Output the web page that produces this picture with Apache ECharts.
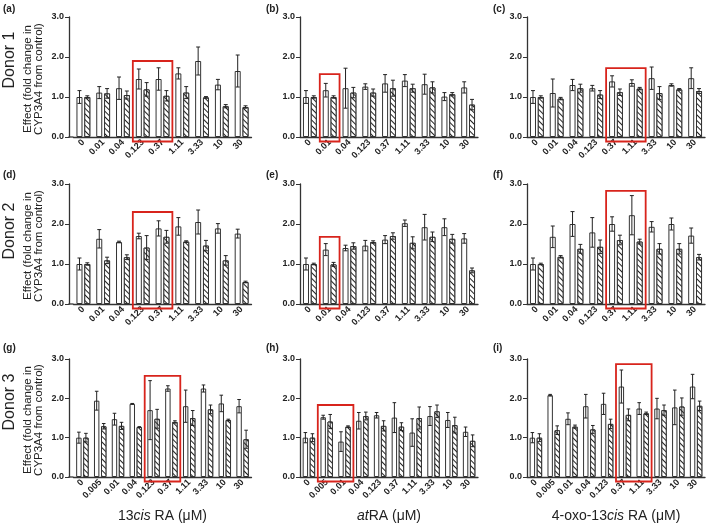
<!DOCTYPE html>
<html><head><meta charset="utf-8">
<script src="https://cdn.jsdelivr.net/npm/echarts@6/dist/echarts.min.js"></script>
<style>html,body{margin:0;padding:0;background:#fff}#c{width:709px;height:524px}</style>
</head><body><div id="c"></div>
<script>
// ---- categories (µM) ----
const cats9 = ['0','0.01','0.04','0.123','0.37','1.11','3.33','10','30'];
const cats10 = ['0','0.005','0.01','0.04','0.123','0.37','1.11','3.33','10','30'];
const yTicks = [0, 1, 2, 3];

// ---- panel (a) Donor 1, 13cis RA ----
const aWhite = [1.00,1.11,1.22,1.45,1.45,1.59,1.90,1.31,1.65];
const aWhiteErr = [0.16,0.15,0.28,0.25,0.28,0.14,0.35,0.13,0.40];
const aHatch = [1.00,1.09,1.05,1.19,1.03,1.11,0.99,0.77,0.75];
const aHatchErr = [0.03,0.12,0.10,0.17,0.13,0.15,0.02,0.04,0.03];
// ---- panel (b) Donor 1, atRA ----
const bWhite = [1.00,1.17,1.22,1.26,1.34,1.41,1.32,1.01,1.24];
const bWhiteErr = [0.16,0.17,0.50,0.07,0.22,0.15,0.25,0.10,0.14];
const bHatch = [1.00,1.00,1.11,1.11,1.22,1.22,1.24,1.07,0.81];
const bHatchErr = [0.03,0.03,0.13,0.09,0.20,0.10,0.14,0.04,0.13];
// ---- panel (c) Donor 1, 4-oxo-13cis RA ----
const cWhite = [1.00,1.10,1.30,1.22,1.39,1.35,1.47,1.30,1.47];
const cWhiteErr = [0.16,0.35,0.14,0.07,0.14,0.08,0.28,0.03,0.26];
const cHatch = [1.00,0.96,1.22,1.06,1.12,1.21,1.10,1.19,1.15];
const cHatchErr = [0.03,0.03,0.10,0.10,0.08,0.03,0.16,0.02,0.06];
// ---- panel (d) Donor 2, 13cis RA ----
const dWhite = [1.00,1.63,1.55,1.70,1.89,1.94,2.05,1.89,1.76];
const dWhiteErr = [0.15,0.23,0.02,0.07,0.19,0.22,0.30,0.12,0.11];
const dHatch = [1.00,1.09,1.17,1.41,1.68,1.56,1.46,1.09,0.55];
const dHatchErr = [0.03,0.08,0.06,0.30,0.16,0.02,0.13,0.12,0.02];
// ---- panel (e) Donor 2, atRA ----
const eWhite = [1.00,1.36,1.40,1.46,1.61,2.02,1.92,1.92,1.64];
const eWhiteErr = [0.15,0.15,0.07,0.13,0.10,0.08,0.32,0.21,0.12];
const eHatch = [1.00,0.99,1.45,1.55,1.70,1.53,1.68,1.63,0.84];
const eHatchErr = [0.02,0.05,0.08,0.03,0.08,0.15,0.12,0.11,0.06];
// ---- panel (f) Donor 2, 4-oxo-13cis RA ----
const fWhite = [1.00,1.68,2.00,1.79,2.00,2.22,1.93,2.00,1.71];
const fWhiteErr = [0.15,0.27,0.31,0.37,0.18,0.49,0.13,0.15,0.19];
const fHatch = [1.00,1.18,1.38,1.43,1.60,1.56,1.38,1.38,1.17];
const fHatchErr = [0.02,0.03,0.11,0.17,0.12,0.06,0.13,0.13,0.07];
// ---- panel (g) Donor 3, 13cis RA ----
const gWhite = [1.00,1.94,1.47,1.86,1.70,2.25,1.80,2.25,1.87,1.80];
const gWhiteErr = [0.14,0.24,0.15,0.01,0.75,0.07,0.41,0.09,0.21,0.17];
const gHatch = [1.00,1.29,1.30,1.27,1.48,1.40,1.50,1.72,1.45,0.96];
const gHatchErr = [0.11,0.07,0.09,0.01,0.24,0.03,0.19,0.11,0.02,0.23];
// ---- panel (h) Donor 3, atRA ----
const hWhite = [1.00,1.52,0.90,1.43,1.57,1.51,1.13,1.55,1.45,1.15];
const hWhiteErr = [0.13,0.05,0.25,0.21,0.07,0.38,0.35,0.24,0.19,0.12];
const hHatch = [1.00,1.41,1.28,1.55,1.30,1.28,1.50,1.67,1.32,0.92];
const hHatchErr = [0.10,0.18,0.02,0.10,0.13,0.10,0.28,0.16,0.20,0.15];
// ---- panel (i) Donor 3, 4-oxo-13cis RA ----
const iWhite = [1.00,2.08,1.48,1.80,1.86,2.30,1.74,1.74,1.77,2.30];
const iWhiteErr = [0.13,0.02,0.15,0.30,0.27,0.42,0.15,0.26,0.44,0.31];
const iHatch = [1.00,1.19,1.28,1.21,1.35,1.58,1.62,1.70,1.79,1.81];
const iHatchErr = [0.10,0.11,0.04,0.10,0.12,0.15,0.03,0.13,0.22,0.12];

// ---- highlight boxes: [first category index, last category index, top value] ----
const boxA = [3, 4, 1.90];
const boxB = [1, 1, 1.57];
const boxC = [4, 5, 1.72];
const boxD = [3, 4, 2.30];
const boxE = [1, 1, 1.68];
const boxF = [4, 5, 2.83];
const boxG = [4, 5, 2.57];
const boxH = [1, 2, 1.83];
const boxI = [5, 6, 2.87];

// ---- text ----
const panelLabels = ['(a)','(b)','(c)','(d)','(e)','(f)','(g)','(h)','(i)'];
const donorLabels = ['Donor 1','Donor 2','Donor 3'];
const yTitleLines = ['Effect (fold change in','CYP3A4 from control)'];
const xTitles = ['13{i|cis} RA (μM)', '{i|at}RA (μM)', '4-oxo-13{i|cis} RA (μM)'];

const panels = [
  {cats:cats9, w:aWhite, we:aWhiteErr, h:aHatch, he:aHatchErr, box:boxA},
  {cats:cats9, w:bWhite, we:bWhiteErr, h:bHatch, he:bHatchErr, box:boxB},
  {cats:cats9, w:cWhite, we:cWhiteErr, h:cHatch, he:cHatchErr, box:boxC},
  {cats:cats9, w:dWhite, we:dWhiteErr, h:dHatch, he:dHatchErr, box:boxD},
  {cats:cats9, w:eWhite, we:eWhiteErr, h:eHatch, he:eHatchErr, box:boxE},
  {cats:cats9, w:fWhite, we:fWhiteErr, h:fHatch, he:fHatchErr, box:boxF},
  {cats:cats10, w:gWhite, we:gWhiteErr, h:gHatch, he:gHatchErr, box:boxG},
  {cats:cats10, w:hWhite, we:hWhiteErr, h:hHatch, he:hHatchErr, box:boxH},
  {cats:cats10, w:iWhite, we:iWhiteErr, h:iHatch, he:iHatchErr, box:boxI}
];

// ---- layout ----
const FONT = 'Arial, "Liberation Sans", sans-serif';
const colLeft = [73.5, 300, 527];
const colWidth = 178;
const yAxisOffset = [4.5, 0, 0];
const rowTop = [17, 184, 359];
const rowH = [120, 120, 118];
const labelX = [3, 266, 493];
const labelY = [4, 170, 343];
const donorY = [60, 231, 402];
const AX = '#333';
const CAT_GAP = 0.3, BAR_GAP = 0.3;

function errRender(params, api) {
  const cat = api.value(0), v = api.value(1), e = api.value(2), side = api.value(3);
  const band = api.size([1, 0])[0];
  const w = band * (1 - CAT_GAP) / (2 + BAR_GAP);
  const x = api.coord([cat, v])[0] + side * (w / 2 + w * BAR_GAP / 2);
  const yHi = api.coord([cat, v + e])[1];
  const yLo = api.coord([cat, Math.max(v - e, 0)])[1];
  const cw = Math.max(w * 0.33, 1.5);
  const style = {stroke: '#222', lineWidth: 1, fill: null};
  return {type: 'group', children: [
    {type: 'line', shape: {x1: x, y1: yHi, x2: x, y2: yLo}, style: style},
    {type: 'line', shape: {x1: x - cw, y1: yHi, x2: x + cw, y2: yHi}, style: style},
    {type: 'line', shape: {x1: x - cw, y1: yLo, x2: x + cw, y2: yLo}, style: style}
  ]};
}
function boxRender(params, api) {
  const s = api.value(0), e = api.value(1), top = api.value(2);
  const band = api.size([1, 0])[0];
  const x1 = api.coord([s, 0])[0] - band / 2;
  const x2 = api.coord([e, 0])[0] + band / 2;
  const y1 = api.coord([s, top])[1];
  const y2 = api.coord([s, 0])[1] + 4.5;
  return {type: 'rect', shape: {x: x1, y: y1, width: x2 - x1, height: y2 - y1},
    style: {fill: null, stroke: '#d8241c', lineWidth: 1.8}};
}

const grid = [], xAxis = [], yAxis = [], series = [], graphic = [];
panels.forEach((p, k) => {
  const r = Math.floor(k / 3), c = k % 3;
  grid.push({left: colLeft[c], top: rowTop[r], width: colWidth, height: rowH[r], containLabel: false});
  xAxis.push({
    type: 'category', gridIndex: k, data: p.cats, boundaryGap: true,
    axisLine: {lineStyle: {color: AX, width: 1.3}},
    axisTick: {alignWithLabel: true, length: 3, lineStyle: {color: AX, width: 1}},
    axisLabel: {rotate: 45, interval: 0, fontSize: 9, fontWeight: 'bold', color: '#222', fontFamily: FONT, margin: 4},
    splitLine: {show: false},
    name: r === 2 ? xTitles[c] : '', nameLocation: 'middle', nameGap: 32,
    nameTextStyle: {fontSize: 14, color: '#222', fontFamily: FONT,
      rich: {i: {fontSize: 14, color: '#222', fontStyle: 'italic', fontFamily: FONT}}}
  });
  yAxis.push({
    type: 'value', gridIndex: k, min: 0, max: 3, interval: 1, offset: yAxisOffset[c],
    axisLine: {show: true, lineStyle: {color: AX, width: 1.3}},
    axisTick: {show: true, length: 4, lineStyle: {color: AX, width: 1}},
    axisLabel: {fontSize: 9, fontWeight: 'bold', color: '#222', fontFamily: FONT, margin: 5,
      formatter: v => v.toFixed(1), customValues: yTicks},
    splitLine: {show: false}
  });
  const barBase = {type: 'bar', xAxisIndex: k, yAxisIndex: k, barGap: (BAR_GAP * 100) + '%',
    barCategoryGap: (CAT_GAP * 100) + '%', silent: true, animation: false};
  series.push(Object.assign({}, barBase, {
    data: p.w, itemStyle: {color: '#fff', borderColor: '#333', borderWidth: 1}
  }));
  series.push(Object.assign({}, barBase, {
    data: p.h, itemStyle: {color: '#fff', borderColor: '#333', borderWidth: 1,
      decal: {symbol: 'rect', symbolSize: 1, dashArrayX: [1, 0], dashArrayY: [1, 3],
        rotation: Math.PI / 4, color: '#222', backgroundColor: '#fff'}}
  }));
  const errData = [];
  p.w.forEach((v, i) => errData.push([i, v, p.we[i], -1]));
  p.h.forEach((v, i) => errData.push([i, v, p.he[i], 1]));
  series.push({type: 'custom', xAxisIndex: k, yAxisIndex: k, renderItem: errRender,
    data: errData, encode: {x: 0, y: 1}, z: 5, silent: true, animation: false, clip: false});
  series.push({type: 'custom', xAxisIndex: k, yAxisIndex: k, renderItem: boxRender,
    data: [p.box], encode: {x: [0, 1], y: 2}, z: 6, silent: true, animation: false, clip: false});
  graphic.push({type: 'text', x: labelX[c], y: labelY[r], silent: true,
    style: {text: panelLabels[k], font: 'bold 10px ' + FONT, fill: '#222', align: 'left', verticalAlign: 'top'}});
  if (c === 0) {
    const bottom = rowTop[r] + rowH[r];
    const mid = rowTop[r] + rowH[r] / 2;
    graphic.push({type: 'line', silent: true,
      shape: {x1: colLeft[0] - yAxisOffset[0] - 0.6, y1: bottom, x2: colLeft[0], y2: bottom},
      style: {stroke: AX, lineWidth: 1.3}});
    graphic.push({type: 'text', x: 10, y: donorY[r], rotation: Math.PI / 2, silent: true,
      style: {text: donorLabels[r], font: '16px ' + FONT, fill: '#222', align: 'center', verticalAlign: 'middle'}});
    graphic.push({type: 'text', x: 27.5, y: mid + 2, rotation: Math.PI / 2, silent: true,
      style: {text: yTitleLines[0], font: '11.5px ' + FONT, fill: '#222', align: 'center', verticalAlign: 'middle'}});
    graphic.push({type: 'text', x: 39, y: mid + 2, rotation: Math.PI / 2, silent: true,
      style: {text: yTitleLines[1], font: '11.5px ' + FONT, fill: '#222', align: 'center', verticalAlign: 'middle'}});
  }
});

const chart = echarts.init(document.getElementById('c'), null, {renderer: 'canvas'});
chart.setOption({backgroundColor: '#fff', animation: false, grid, xAxis, yAxis, series, graphic});
</script>
</body></html>
